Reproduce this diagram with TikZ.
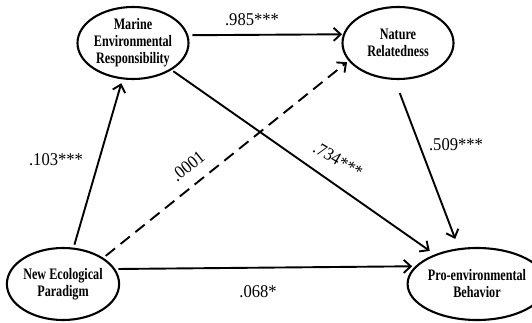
\documentclass[tikz,border=0pt]{standalone}
\usepackage{fontspec}
\setmainfont{Liberation Serif}
\newfontfamily\nfont[FakeStretch=0.76]{Liberation Serif}
\newfontfamily\lfont[FakeStretch=0.92]{Liberation Serif}
\usetikzlibrary{shapes.geometric,arrows.meta}
\begin{document}
\begin{tikzpicture}[x=1pt,y=-1pt,
  var/.style={ellipse, draw, line width=2.1pt, minimum width=111pt, minimum height=72pt, inner sep=0pt, align=center,
    font=\nfont\bfseries\fontsize{16}{17}\selectfont},
  arr/.style={line width=1.9pt, -{Straight Barb[length=7pt,width=13pt,line width=1.9pt]}},
  lab/.style={font=\lfont\fontsize{18}{20}\selectfont, inner sep=0pt}]
\useasboundingbox (0,0) rectangle (532,323);
\node[var] (M) at (133,43) {Marine\\Environmental\\Responsibility};
\node[var] (N) at (398,43) {Nature\\Relatedness};
\node[var] (E) at (63,284) {New Ecological\\Paradigm};
\node[var] (P) at (477,284) {Pro-environmental\\Behavior};
\draw[arr, shorten <=4pt, shorten >=1pt] (M.8.5) -- (N.171.5);
\draw[arr, shorten <=3pt, shorten >=4pt] (E) -- (M);
\draw[arr, dash pattern=on 12pt off 7pt, shorten <=3pt, shorten >=2pt] (E.33) -- (N.200);
\draw[arr, shorten <=2pt, shorten >=6pt] (M) -- (P);
\draw[arr, shorten <=14pt, shorten >=10pt] (N.265) -- (P.117);
\draw[arr, shorten <=3pt, shorten >=3pt] (E.16) -- (P.164);
\node[lab] (l1) at (252,20) {.985***};
\node[lab] (l2) at (56,160) {.103***};
\node[lab, rotate=39] (l3) at (188,166) {.0001};
\node[lab, rotate=-30] (l4) at (338,160) {.734***};
\node[lab] (l5) at (456,145) {.509***};
\node[lab] (l6) at (258,292) {.068*};
\end{tikzpicture}
\end{document}
